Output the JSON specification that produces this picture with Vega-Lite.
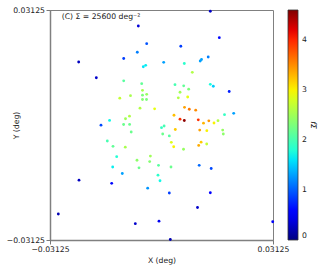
{
  "$schema": "https://vega.github.io/schema/vega-lite/v6.json",
  "autosize": "none",
  "width": 223,
  "height": 230,
  "padding": {"left": 50, "top": 10, "right": 54, "bottom": 33},
  "config": {
    "font": "DejaVu Sans",
    "view": {"stroke": "#808080", "strokeWidth": 1},
    "axis": {
      "domainColor": "#808080", "domainWidth": 1.5,
      "tickColor": "#555555", "tickSize": 4, "tickWidth": 0.8,
      "labelFontSize": 7.7, "labelColor": "#222222", "labelPadding": 1.5,
      "titleFontSize": 7.7, "titleFontWeight": "normal", "titleColor": "#222222",
      "grid": false
    }
  },
  "layer": [
    {
      "data": {"values": [
        {"x": -0.00650, "y": 0.02690, "v": 0.35},
        {"x": -0.00415, "y": 0.02209, "v": 0.95},
        {"x": -0.00678, "y": 0.01976, "v": 1.15},
        {"x": -0.01059, "y": 0.01807, "v": 0.85},
        {"x": -0.02321, "y": 0.01712, "v": 0.25},
        {"x": -0.01827, "y": 0.01285, "v": 0.3},
        {"x": -0.00443, "y": 0.01622, "v": 1.65},
        {"x": -0.00510, "y": 0.01582, "v": 1.6},
        {"x": -0.01059, "y": 0.01201, "v": 2.1},
        {"x": -0.00555, "y": 0.01122, "v": 2.15},
        {"x": -0.00533, "y": 0.00943, "v": 2.55},
        {"x": -0.00415, "y": 0.00834, "v": 2.45},
        {"x": -0.00533, "y": 0.00810, "v": 2.3},
        {"x": -0.00533, "y": 0.00693, "v": 2.35},
        {"x": -0.00420, "y": 0.00693, "v": 2.3},
        {"x": -0.01169, "y": 0.00728, "v": 2.7},
        {"x": -0.00869, "y": 0.00796, "v": 2.55},
        {"x": -0.00603, "y": 0.00457, "v": 2.6},
        {"x": -0.00193, "y": 0.00440, "v": 2.9},
        {"x": -0.00897, "y": 0.00239, "v": 2.6},
        {"x": -0.01009, "y": 0.00169, "v": 2.5},
        {"x": -0.01455, "y": 0.00125, "v": 1.7},
        {"x": -0.01696, "y": -0.00005, "v": 0.9},
        {"x": -0.01062, "y": 0.00014, "v": 2.2},
        {"x": -0.00894, "y": 0.00016, "v": 2.2},
        {"x": 0.01368, "y": 0.03090, "v": 0.3},
        {"x": 0.01620, "y": 0.02372, "v": 0.6},
        {"x": 0.00541, "y": 0.02141, "v": 0.85},
        {"x": 0.01309, "y": 0.01848, "v": 1.15},
        {"x": 0.01121, "y": 0.01780, "v": 1.3},
        {"x": 0.01085, "y": 0.01739, "v": 1.3},
        {"x": 0.00062, "y": 0.01704, "v": 1.3},
        {"x": 0.00639, "y": 0.01671, "v": 1.85},
        {"x": 0.00863, "y": 0.01432, "v": 2.6},
        {"x": 0.01368, "y": 0.01106, "v": 1.75},
        {"x": 0.01452, "y": 0.01054, "v": 1.5},
        {"x": 0.01897, "y": 0.00910, "v": 0.7},
        {"x": 0.00378, "y": 0.01095, "v": 2.0},
        {"x": 0.00622, "y": 0.01065, "v": 2.15},
        {"x": 0.00762, "y": 0.00973, "v": 2.3},
        {"x": 0.00519, "y": 0.00891, "v": 2.5},
        {"x": 0.00734, "y": 0.00761, "v": 2.9},
        {"x": 0.00471, "y": 0.00739, "v": 2.6},
        {"x": 0.00645, "y": 0.00481, "v": 3.4},
        {"x": 0.00779, "y": 0.00427, "v": 3.6},
        {"x": 0.00959, "y": 0.00402, "v": 3.5},
        {"x": 0.00350, "y": 0.00266, "v": 3.25},
        {"x": 0.00519, "y": 0.00158, "v": 3.95},
        {"x": 0.00639, "y": 0.00122, "v": 4.55},
        {"x": 0.01031, "y": 0.00141, "v": 3.95},
        {"x": 0.01326, "y": 0.00114, "v": 3.45},
        {"x": 0.01177, "y": 0.00049, "v": 3.3},
        {"x": 0.01471, "y": 0.00054, "v": 3.0},
        {"x": 0.01584, "y": 0.00117, "v": 2.6},
        {"x": 0.01766, "y": 0.00280, "v": 1.9},
        {"x": 0.02024, "y": 0.00318, "v": 1.3},
        {"x": 0.00000, "y": -0.00073, "v": 1.9},
        {"x": 0.00073, "y": -0.00027, "v": 2.0},
        {"x": 0.00387, "y": -0.00122, "v": 3.2},
        {"x": 0.01071, "y": -0.00139, "v": 3.4},
        {"x": 0.01270, "y": -0.00155, "v": 3.0},
        {"x": 0.01715, "y": -0.00139, "v": 2.45},
        {"x": 0.01732, "y": -0.00245, "v": 2.4},
        {"x": -0.00849, "y": -0.00190, "v": 2.2},
        {"x": 0.00034, "y": -0.00245, "v": 2.2},
        {"x": 0.00219, "y": -0.00296, "v": 2.1},
        {"x": -0.01519, "y": -0.00435, "v": 2.0},
        {"x": -0.01359, "y": -0.00579, "v": 2.15},
        {"x": -0.01015, "y": -0.00603, "v": 2.55},
        {"x": 0.00275, "y": -0.00470, "v": 2.85},
        {"x": 0.00342, "y": -0.00590, "v": 3.0},
        {"x": 0.00617, "y": -0.00658, "v": 2.45},
        {"x": 0.01110, "y": -0.00467, "v": 3.2},
        {"x": 0.01043, "y": -0.00554, "v": 3.35},
        {"x": 0.01267, "y": -0.00516, "v": 2.7},
        {"x": -0.01256, "y": -0.00861, "v": 1.8},
        {"x": -0.00687, "y": -0.00957, "v": 2.4},
        {"x": -0.00311, "y": -0.00845, "v": 2.5},
        {"x": -0.00331, "y": -0.00995, "v": 2.35},
        {"x": -0.00084, "y": -0.01095, "v": 2.1},
        {"x": -0.00631, "y": -0.01163, "v": 2.2},
        {"x": 0.00266, "y": -0.01141, "v": 2.2},
        {"x": -0.01368, "y": -0.01141, "v": 1.65},
        {"x": -0.01099, "y": -0.01318, "v": 1.3},
        {"x": -0.00098, "y": -0.01364, "v": 1.85},
        {"x": -0.00042, "y": -0.01516, "v": 1.7},
        {"x": -0.02312, "y": -0.01500, "v": 0.25},
        {"x": -0.01396, "y": -0.01584, "v": 0.6},
        {"x": -0.00387, "y": -0.01717, "v": 1.25},
        {"x": 0.00219, "y": -0.01848, "v": 0.85},
        {"x": 0.01057, "y": -0.01095, "v": 1.05},
        {"x": 0.01393, "y": -0.01182, "v": 0.9},
        {"x": 0.01368, "y": -0.01840, "v": 0.55},
        {"x": 0.01009, "y": -0.02242, "v": 0.3},
        {"x": -0.02892, "y": -0.02419, "v": 0.2},
        {"x": -0.00734, "y": -0.02682, "v": 0.3},
        {"x": -0.00070, "y": -0.02614, "v": 0.45},
        {"x": 0.00247, "y": -0.03111, "v": 0.2},
        {"x": 0.03117, "y": -0.02630, "v": 0.5}
      ]},
      "mark": {"type": "circle", "size": 8, "opacity": 1},
      "encoding": {
        "x": {"field": "x", "type": "quantitative",
          "scale": {"domain": [-0.03125, 0.03125], "nice": false, "zero": false},
          "axis": {"values": [-0.03125, 0.03125], "format": ".5f", "title": "X (deg)", "labelFlush": false, "titlePadding": 3}},
        "y": {"field": "y", "type": "quantitative",
          "scale": {"domain": [-0.03125, 0.03125], "nice": false, "zero": false},
          "axis": {"values": [-0.03125, 0.03125], "format": ".5f", "title": "Y (deg)", "titleX": -30, "titleY": 115}},
        "color": {"field": "v", "type": "quantitative",
          "scale": {
            "type": "linear",
            "domain": [0, 0.506, 0.575, 1.564, 1.61, 1.725, 2.944, 2.99, 3.036, 4.094, 4.186, 4.6],
            "range": ["#000080", "#0000ff", "#0000ff", "#00dbff", "#00e6f7", "#15ffe2", "#eeff08", "#f7f500", "#ffec00", "#ff1300", "#e80000", "#800000"],
            "interpolate": "rgb"
          },
          "legend": {
            "orient": "right", "offset": 15,
            "gradientLength": 230, "gradientThickness": 10,
            "gradientStrokeColor": "#333333", "gradientStrokeWidth": 0.8,
            "values": [0, 1, 2, 3, 4],
            "labelFontSize": 7.7, "labelColor": "#222222", "labelOffset": 4,
            "title": "fΣ", "titleOrient": "right", "titleFontSize": 7.7, "titleFontWeight": "normal", "titleFontStyle": "italic", "titlePadding": 2,
            "encode": {
              "labels": {"update": {"baseline": {"value": "middle"}}},
              "title": {"update": {"angle": {"value": -90}}}
            }
          }
        }
      }
    },
    {
      "data": {"values": [{"label": "(C) Σ = 25600 deg⁻²"}]},
      "mark": {"type": "text", "align": "left", "baseline": "middle", "fontSize": 7.7, "color": "#222222"},
      "encoding": {
        "x": {"datum": -0.02797},
        "y": {"datum": 0.02927},
        "text": {"field": "label"}
      }
    }
  ]
}
